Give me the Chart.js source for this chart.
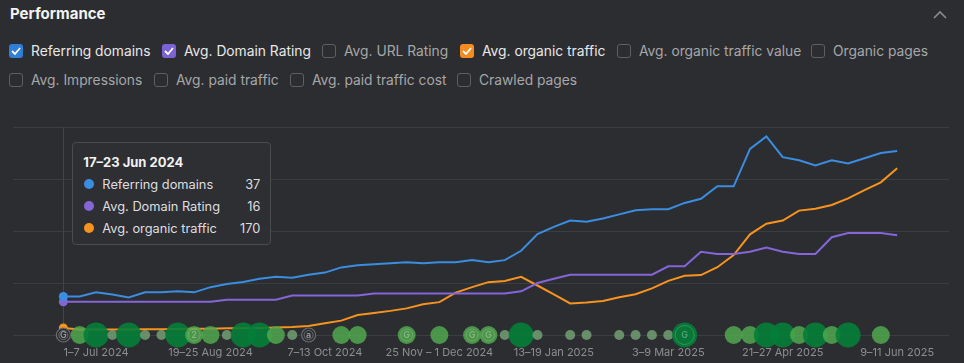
<!DOCTYPE html>
<html>
<head>
<meta charset="utf-8">
<script src="https://cdn.jsdelivr.net/npm/chart.js@4.4.1/dist/chart.umd.min.js"></script>
<style>
  html, body { margin: 0; padding: 0; background: #2c2d30; }
  body { width: 964px; height: 363px; overflow: hidden; position: relative; font-family: Inter, "Noto Sans", sans-serif; }
  .title { position: absolute; left: 10px; top: 4px; font-size: 15px; font-weight: 700; color: #f2f2f3; line-height: 20px; }
  .chev { position: absolute; left: 930px; top: 6px; }
  .opt { position: absolute; height: 16px; display: flex; align-items: center; font-size: 13.8px; color: #a6a7aa; white-space: nowrap; }
  .opt.on { color: #e8e8e9; }
  .box { width: 14px; height: 14px; box-sizing: border-box; border: 1px solid #5e5f63; border-radius: 3px; margin-right: 8px; display: flex; align-items: center; justify-content: center; }
  .on .box { border: none; }
  #wrap { position: absolute; left: 0; top: 100px; width: 964px; height: 263px; }
  #tip { position: absolute; width: 199px; height: 103px; box-sizing: border-box; background: #2e2f32; border: 1px solid #4a4b4f; border-radius: 4px; padding: 10px 10px 0 10px; display: none; }
  #tip .tt { font-size: 13px; font-weight: 700; color: #f2f2f3; line-height: 18px; margin-bottom: 2px; }
  #tip .tr { display: flex; align-items: center; height: 22px; font-size: 12.8px; color: #dedee0; }
  #tip .dot { width: 10px; height: 10px; border-radius: 50%; margin: 0 8px 0 1px; }
  #tip .lb { flex: 1; }
</style>
</head>
<body>
<div class="title">Performance</div>
<svg class="chev" width="20" height="16"><polyline points="4,12 10,6 16,12" fill="none" stroke="#8a8b8e" stroke-width="1.6"/></svg>
<div id="opts"></div>
<div id="wrap">
  <canvas id="chart" width="964" height="263"></canvas>
  <div id="tip"></div>
</div>
<script>
// weekly buckets
var weeks = [
  "17–23 Jun 2024", "24–30 Jun 2024", "1–7 Jul 2024", "8–14 Jul 2024", "15–21 Jul 2024",
  "22–28 Jul 2024", "29 Jul – 4 Aug 2024", "5–11 Aug 2024", "12–18 Aug 2024", "19–25 Aug 2024",
  "26 Aug – 1 Sep 2024", "2–8 Sep 2024", "9–15 Sep 2024", "16–22 Sep 2024", "23–29 Sep 2024",
  "30 Sep – 6 Oct 2024", "7–13 Oct 2024", "14–20 Oct 2024", "21–27 Oct 2024", "28 Oct – 3 Nov 2024",
  "4–10 Nov 2024", "11–17 Nov 2024", "18–24 Nov 2024", "25 Nov – 1 Dec 2024", "2–8 Dec 2024",
  "9–15 Dec 2024", "16–22 Dec 2024", "23–29 Dec 2024", "30 Dec 2024 – 5 Jan 2025", "6–12 Jan 2025",
  "13–19 Jan 2025", "20–26 Jan 2025", "27 Jan – 2 Feb 2025", "3–9 Feb 2025", "10–16 Feb 2025",
  "17–23 Feb 2025", "24 Feb – 2 Mar 2025", "3–9 Mar 2025", "10–16 Mar 2025", "17–23 Mar 2025",
  "24–30 Mar 2025", "31 Mar – 6 Apr 2025", "7–13 Apr 2025", "14–20 Apr 2025", "21–27 Apr 2025",
  "28 Apr – 4 May 2025", "5–11 May 2025", "12–18 May 2025", "19–25 May 2025", "26 May – 1 Jun 2025",
  "2–8 Jun 2025", "9–11 Jun 2025"
];
var tickWeeks = [2, 9, 16, 23, 30, 37, 44, 51];

var refDomains = [37, 37, 41, 39, 36, 41, 41, 42, 41, 46, 49, 51, 54, 56, 55, 58, 60, 65, 67, 68,
  69, 70, 69, 70, 70, 72, 70, 72, 81, 97, 104, 110, 109, 112, 116, 120, 121, 121, 127, 131,
  143, 143, 179, 191, 171, 168, 163, 168, 165, 170, 175, 177];
var domainRating = [16, 16, 16, 16, 16, 16, 16, 16, 16, 16, 17, 17, 17, 17, 19, 19, 19, 19, 19, 20,
  20, 20, 20, 20, 20, 20, 20, 20, 21, 25, 27, 29, 29, 29, 29, 29, 29, 33, 33, 40,
  39, 39, 40, 42, 40, 39, 39, 47, 49, 49, 49, 48];
var organicTraffic = [170, 130, 135, 130, 135, 140, 140, 145, 150, 150, 160, 160, 170, 180, 190, 215, 280, 345, 480, 530,
  580, 640, 740, 790, 1020, 1150, 1270, 1300, 1400, 1190, 975, 760, 780, 820, 905, 980, 1120, 1300, 1425, 1440,
  1630, 1920, 2420, 2675, 2750, 2990, 3035, 3125, 3285, 3485, 3670, 4010];

// annotation bubbles under the chart
var eventWeeks = [0, 1, 2, 3, 4, 5, 6, 7, 8, 9, 10, 11, 12, 13, 14, 15, 17, 18, 21, 23,
  25, 26, 27, 28, 29, 31, 32, 34, 35, 36, 37, 38, 41, 42, 43, 44, 45, 46, 47, 48, 50];
var eventLevel = [0, 2, 3, 1, 3, 1, 1, 3, 2, 2, 1, 3, 3, 2, 1, 0, 2, 2, 2, 2,
  2, 2, 1, 3, 1, 1, 1, 1, 1, 1, 1, 3, 2, 2, 3, 3, 2, 3, 2, 3, 2];
var eventMark = ["G", "", "", "", "", "", "", "", "2", "", "", "", "", "", "", "a", "", "", "G", "",
  "G", "G", "", "", "", "", "", "", "", "", "", "G", "", "", "", "", "", "", "", "", ""];

var hoverWeek = 0;

var seriesNames = ["Referring domains", "Avg. Domain Rating", "Avg. organic traffic"];
var seriesColors = ["#3a8de0", "#8466d8", "#f7931e"];

/**
チェックボックス行を描画
*/
function drawOptions() {
  var items = [
    ["Referring domains", 9, 43, "#2f7fd6"], ["Avg. Domain Rating", 162, 43, "#7b63d6"],
    ["Avg. URL Rating", 322, 43, null], ["Avg. organic traffic", 460, 43, "#f68b1f"],
    ["Avg. organic traffic value", 617, 43, null], ["Organic pages", 811, 43, null],
    ["Avg. Impressions", 9, 72, null], ["Avg. paid traffic", 154, 72, null],
    ["Avg. paid traffic cost", 290, 72, null], ["Crawled pages", 457, 72, null]
  ];
  var html = "";
  items.forEach(function (it) {
    var on = !!it[3];
    html += '<div class="opt' + (on ? ' on' : '') + '" style="left:' + it[1] + 'px;top:' + it[2] + 'px">' +
      '<span class="box"' + (on ? ' style="background:' + it[3] + '"' : '') + '>' +
      (on ? '<svg width="10" height="8"><polyline points="1,4 4,7 9,1" fill="none" stroke="#fff" stroke-width="1.8"/></svg>' : '') +
      '</span>' + it[0] + '</div>';
  });
  document.getElementById("opts").innerHTML = html;
}

/**
ツールチップ (HTML)
*/
function renderTip(context) {
  var tip = context.tooltip;
  var el = document.getElementById("tip");
  if (tip.opacity === 0 || !tip.dataPoints || !tip.dataPoints.length) { el.style.display = "none"; return; }
  var i = tip.dataPoints[0].dataIndex;
  var vals = [refDomains[i], domainRating[i], organicTraffic[i]];
  var html = '<div class="tt">' + weeks[i] + '</div>';
  for (var k = 0; k < 3; k++) {
    html += '<div class="tr"><span class="dot" style="background:' + seriesColors[k] + '"></span>' +
      '<span class="lb">' + seriesNames[k] + '</span><span>' + vals[k] + '</span></div>';
  }
  el.innerHTML = html;
  el.style.display = "block";
  el.style.left = (tip.caretX + 9) + "px";
  el.style.top = (context.chart.chartArea.top + 15) + "px";
}

var hoverLine = {
  id: "hoverLine",
  beforeDatasetsDraw: function (chart) {
    var x = Math.round(chart.scales.x.getPixelForValue(hoverWeek)) + 0.5;
    var ctx = chart.ctx;
    ctx.save();
    ctx.strokeStyle = "#434447";
    ctx.lineWidth = 1;
    ctx.beginPath();
    ctx.moveTo(x, chart.chartArea.top);
    ctx.lineTo(x, chart.chartArea.bottom);
    ctx.stroke();
    ctx.restore();
  }
};

var eventLetters = {
  id: "eventLetters",
  afterDatasetsDraw: function (chart) {
    var meta = chart.getDatasetMeta(3);
    var ctx = chart.ctx;
    ctx.save();
    ctx.textAlign = "center";
    ctx.textBaseline = "middle";
    meta.data.forEach(function (pt, i) {
      var m = eventMark[i];
      if (!m) return;
      var r = pt.options.radius;
      if (eventLevel[i] === 0) {
        ctx.strokeStyle = "#6c6d71";
        ctx.lineWidth = 1;
        ctx.beginPath(); ctx.arc(pt.x, pt.y, r - 2.5, 0, Math.PI * 2); ctx.stroke();
        ctx.fillStyle = "#9a9b9e";
      } else {
        ctx.strokeStyle = "rgba(255,255,255,0.18)";
        ctx.lineWidth = 1;
        ctx.beginPath(); ctx.arc(pt.x, pt.y, r - 3, 0, Math.PI * 2); ctx.stroke();
        ctx.fillStyle = "rgba(255,255,255,0.3)";
      }
      ctx.font = "600 9px Inter, sans-serif";
      ctx.fillText(m, pt.x, pt.y + 0.5);
    });
    ctx.restore();
  }
};

function lineSet(values, idx, axis) {
  return {
    type: "line",
    label: seriesNames[idx],
    data: values.map(function (v, i) { return { x: i, y: v }; }),
    yAxisID: axis,
    borderColor: seriesColors[idx],
    backgroundColor: seriesColors[idx],
    borderWidth: 2,
    pointRadius: 0,
    pointHoverRadius: 4.5,
    pointHoverBorderWidth: 0,
    pointHoverBackgroundColor: seriesColors[idx],
    tension: 0
  };
}

var bubbleFill = ["#2c2d30", "rgba(122,168,122,0.78)", "rgba(80,168,78,0.85)", "rgba(4,126,56,0.9)"];
var bubbleRadius = [7, 5, 9, 12.5];

function drawChart() {
  var config = {
    data: {
      datasets: [
        lineSet(refDomains, 0, "yRd"),
        lineSet(domainRating, 1, "yDr"),
        lineSet(organicTraffic, 2, "yTr"),
        {
          type: "bubble",
          label: "events",
          data: eventWeeks.map(function (w) { return { x: w, y: 0 }; }),
          yAxisID: "yEv",
          order: -1,
          clip: false,
          radius: function (c) { return bubbleRadius[eventLevel[c.dataIndex]]; },
          hoverRadius: 0,
          backgroundColor: function (c) { return bubbleFill[eventLevel[c.dataIndex]]; },
          borderColor: function (c) { return eventLevel[c.dataIndex] === 0 ? "#6c6d71" : "rgba(0,0,0,0)"; },
          borderWidth: function (c) { return eventLevel[c.dataIndex] === 0 ? 1.2 : 0; }
        }
      ]
    },
    options: {
      responsive: false,
      animation: false,
      events: [],
      layout: { padding: { top: 27, left: 10, right: 15, bottom: 0 } },
      interaction: { mode: "index", intersect: false },
      plugins: {
        legend: { display: false },
        tooltip: { enabled: false, external: renderTip }
      },
      scales: {
        x: {
          type: "linear",
          min: -3.11,
          max: 54.17,
          grid: { display: false },
          border: { display: false },
          afterBuildTicks: function (s) { s.ticks = tickWeeks.map(function (v) { return { value: v }; }); },
          afterFit: function (s) { s.height = 28; },
          ticks: {
            autoSkip: false,
            maxRotation: 0,
            padding: 3,
            color: "#8d8e91",
            font: { family: "Inter", size: 11 },
            callback: function (v) { return weeks[v]; }
          }
        },
        y: {
          min: 0, max: 4,
          ticks: { display: false, stepSize: 1 },
          grid: { color: "#3c3d40", lineWidth: 1, drawTicks: false },
          border: { display: false },
          afterFit: function (s) { s.width = 0; }
        },
        yRd: { display: false, min: 0, max: 200 },
        yDr: { display: false, min: 0, max: 100 },
        yTr: { display: false, min: 0, max: 5000 },
        yEv: { display: false, min: 0, max: 1 }
      }
    },
    plugins: [hoverLine, eventLetters]
  };
  var ctx = document.getElementById("chart").getContext("2d");
  window.perfChart = new Chart(ctx, config);

  var active = [0, 1, 2].map(function (d) { return { datasetIndex: d, index: hoverWeek }; });
  window.perfChart.setActiveElements(active);
  window.perfChart.tooltip.setActiveElements(active, { x: 61, y: 200 });
  window.perfChart.update();
}

drawOptions();
drawChart();
</script>
</body>
</html>
